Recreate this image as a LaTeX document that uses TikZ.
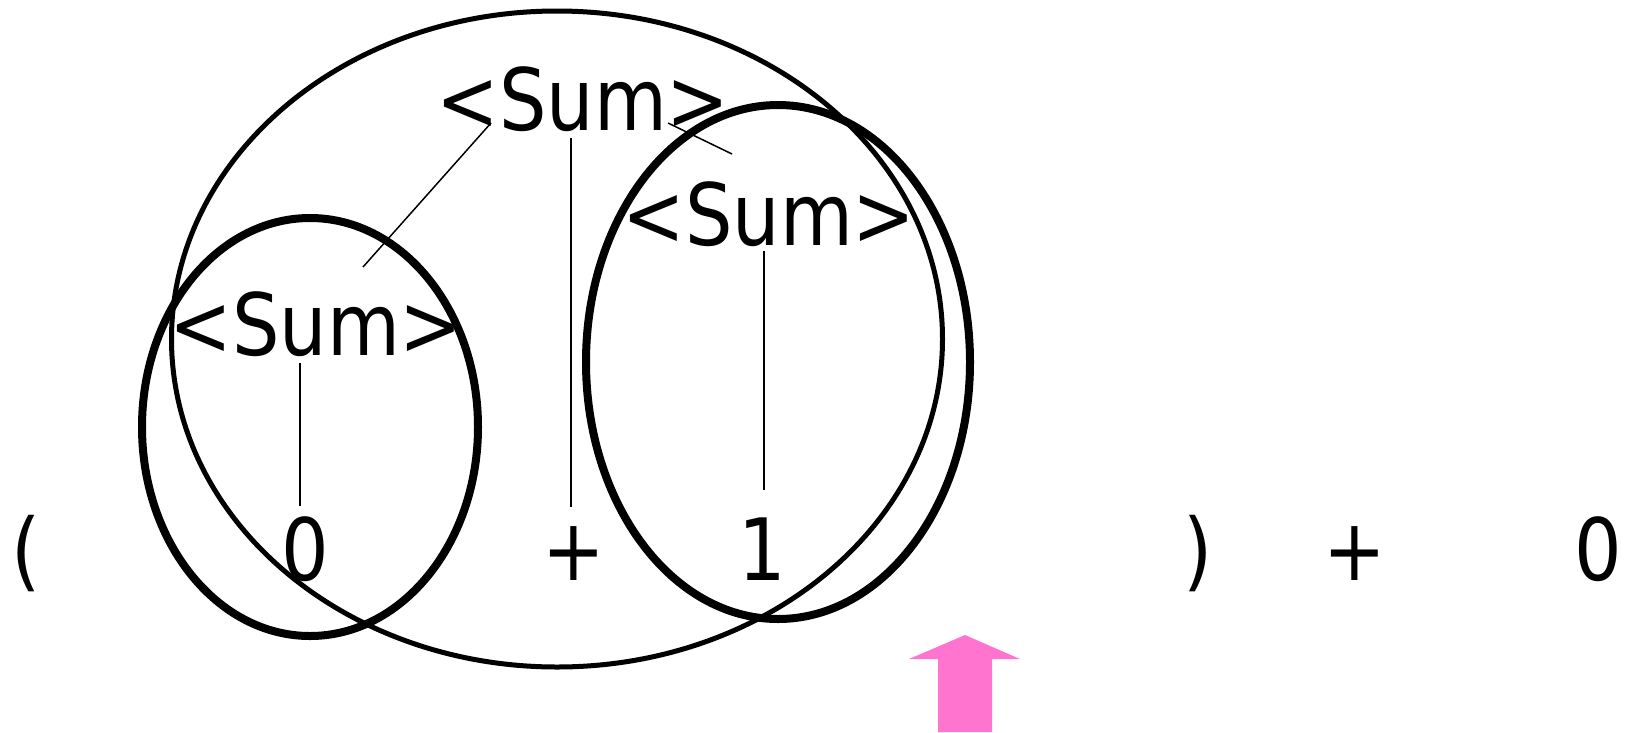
\documentclass[tikz,border=0pt]{standalone}
\usepackage{fontspec}
\setmainfont{DejaVu Sans}[FakeStretch=0.87]
\usepackage{xcolor}
\definecolor{CursorPink}{HTML}{FF74CE}
\usetikzlibrary{positioning}

\begin{document}
\begin{tikzpicture}[x=1pt,y=-1pt,
  every node/.style={font=\fontsize{86}{100}\selectfont,inner sep=0pt,anchor=base},
  branch/.style={line width=1.5pt},
  outer/.style={draw,line width=5pt},
  inner/.style={draw,line width=8pt}]
\useasboundingbox (0,0) rectangle (1628,732);
% token row
\node (lp) at (26,580) {(};
\node (z1) at (305,580) {0};
\node (p1) at (574,580) {+};
\node (one) at (762,580) {1};
\node (rp) at (1198,580) {)};
\node (p2) at (1355,580) {+};
\node (z2) at (1598,580) {0};
% parse nodes
\node (sumT) at (583,130) {<Sum>};
\node (sumL) at (316,355) {<Sum>};
\node (sumR) at (769,245) {<Sum>};
% branch ends
\coordinate (tL) at (491,123); \coordinate (lT) at (363,267);
\coordinate (tM) at (571,138); \coordinate (pT) at (571,507);
\coordinate (tR) at (668,123); \coordinate (rT) at (732,154);
\coordinate (lB) at (300,363); \coordinate (zT) at (300,506);
\coordinate (rB) at (764,251); \coordinate (oT) at (764,490);
\draw[branch] (tL) -- (lT);
\draw[branch] (tM) -- (pT);
\draw[branch] (tR) -- (rT);
\draw[branch] (lB) -- (zT);
\draw[branch] (rB) -- (oT);
% rings
\draw[outer] (557,339) ellipse [x radius=385.5,y radius=328];
\draw[inner] (310,427) ellipse [x radius=168,y radius=209];
\draw[inner] (778,362) ellipse [x radius=192,y radius=257];
% cursor
\fill[CursorPink] (965,635) -- (1020,659) -- (992,659) -- (992,732)
  -- (938,732) -- (938,659) -- (909,659) -- cycle;
\end{tikzpicture}
\end{document}
